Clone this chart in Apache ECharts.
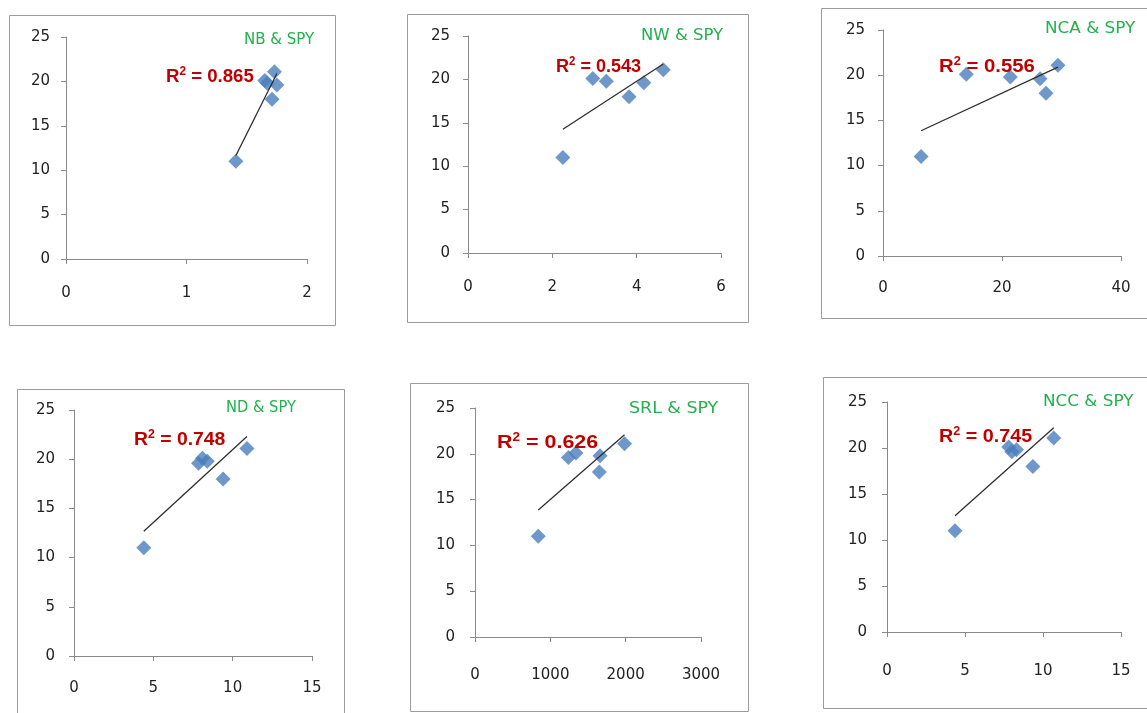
<!DOCTYPE html>
<html>
<head>
<meta charset="utf-8">
<title>Regressions vs SPY</title>
<script src="https://cdn.jsdelivr.net/npm/echarts@6/dist/echarts.min.js"></script>
<style>
  html, body { margin: 0; padding: 0; background: #ffffff; }
  #chart { width: 1147px; height: 713px; }
</style>
</head>
<body>
<div id="chart"></div>
<script>
// SPY values (y) shared by every panel, in the same observation order
const SPY = [11.0, 20.1, 19.8, 18.0, 19.6, 21.1];

// x values for each comparison series
const NB  = [1.41, 1.65, 1.67, 1.71, 1.75, 1.73];
const NW  = [2.25, 2.96, 3.28, 3.82, 4.17, 4.63];
const NCA = [6.4, 14.0, 21.4, 27.4, 26.4, 29.4];
const ND  = [4.4, 8.1, 8.4, 9.4, 7.85, 10.9];
const SRL = [840, 1340, 1660, 1650, 1240, 1985];
const NCC = [4.36, 7.8, 8.3, 9.35, 8.0, 10.69];

const PANEL_TITLES = ['NB & SPY', 'NW & SPY', 'NCA & SPY', 'ND & SPY', 'SRL & SPY', 'NCC & SPY'];
const R2_VALUES = ['0.865', '0.543', '0.556', '0.748', '0.626', '0.745'];

// axis ranges
const X_MAX  = [2, 6, 40, 15, 3000, 15];
const X_STEP = [1, 2, 20, 5, 1000, 5];
const Y_MAX = 25;
const Y_STEP = 5;

const X_SERIES = [NB, NW, NCA, ND, SRL, NCC];

// page layout of each panel: outer frame, plot area, label margins, text anchors
const LAYOUT = [
  { box: [9, 15, 326, 310],   grid: [66, 37, 241, 222],   xm: 27, ym: 16, title: [244, 40, 1.0],   r2: [166, 77, 0.98] },
  { box: [407, 14, 341, 308], grid: [468, 36, 253, 217],  xm: 27, ym: 18, title: [641, 36, 1.1],   r2: [556, 67, 0.95] },
  { box: [821, 8, 340, 310],  grid: [883, 30, 238, 226],  xm: 25, ym: 18, title: [1045, 29, 1.12], r2: [939, 67, 1.07] },
  { box: [17, 389, 327, 340], grid: [74, 410, 238, 246],  xm: 25, ym: 19, title: [226, 408, 0.98], r2: [134, 440, 1.02] },
  { box: [410, 383, 338, 328], grid: [475, 408, 226, 229], xm: 31, ym: 20, title: [629, 409, 1.16], r2: [497, 443, 1.13] },
  { box: [823, 377, 340, 331], grid: [887, 402, 234, 230], xm: 32, ym: 20, title: [1043, 402, 1.12], r2: [939, 437, 1.04] }
];

// least-squares fit, returned as the two end points of the fitted segment
function trendSegment(xs, ys) {
  const n = xs.length;
  let mx = 0, my = 0;
  for (let i = 0; i < n; i++) { mx += xs[i]; my += ys[i]; }
  mx /= n; my /= n;
  let sxy = 0, sxx = 0;
  for (let i = 0; i < n; i++) {
    sxy += (xs[i] - mx) * (ys[i] - my);
    sxx += (xs[i] - mx) * (xs[i] - mx);
  }
  const b = sxy / sxx;
  const a = my - b * mx;
  const lo = Math.min.apply(null, xs);
  const hi = Math.max.apply(null, xs);
  return [[lo, a + b * lo], [hi, a + b * hi]];
}

const AXIS_COLOR = '#8a8a8a';
const LABEL_STYLE = {
  color: '#222222', fontSize: 15, fontFamily: 'DejaVu Sans',
  formatter: function (v) { return String(v); }
};

const grids = [], xAxes = [], yAxes = [], series = [], graphics = [];

LAYOUT.forEach(function (L, i) {
  grids.push({ left: L.grid[0], top: L.grid[1], width: L.grid[2], height: L.grid[3] });

  xAxes.push({
    type: 'value', gridIndex: i, min: 0, max: X_MAX[i], interval: X_STEP[i],
    axisLine: { show: true, onZero: false, lineStyle: { color: AXIS_COLOR, width: 1 } },
    axisTick: { show: true, length: 5, lineStyle: { color: AXIS_COLOR } },
    splitLine: { show: false },
    axisLabel: Object.assign({ margin: L.xm }, LABEL_STYLE)
  });
  yAxes.push({
    type: 'value', gridIndex: i, min: 0, max: Y_MAX, interval: Y_STEP,
    axisLine: { show: true, onZero: false, lineStyle: { color: AXIS_COLOR, width: 1 } },
    axisTick: { show: true, length: 5, lineStyle: { color: AXIS_COLOR } },
    splitLine: { show: false },
    axisLabel: Object.assign({ margin: L.ym }, LABEL_STYLE)
  });

  const xs = X_SERIES[i];
  series.push({
    type: 'scatter', xAxisIndex: i, yAxisIndex: i,
    symbol: 'diamond', symbolSize: 15,
    itemStyle: { color: '#4a7ebb' },
    data: xs.map(function (x, k) { return [x, SPY[k]]; }),
    z: 2
  });
  series.push({
    type: 'line', xAxisIndex: i, yAxisIndex: i,
    showSymbol: false, symbol: 'none', silent: true,
    lineStyle: { color: '#2e2e2e', width: 1.3 },
    data: trendSegment(xs, SPY),
    z: 3
  });

  // frame around the panel
  graphics.push({
    type: 'rect', silent: true, z: 0,
    shape: { x: L.box[0] + 0.5, y: L.box[1] + 0.5, width: L.box[2], height: L.box[3] },
    style: { fill: 'none', stroke: '#9c9c9c', lineWidth: 1 }
  });

  // panel caption
  graphics.push({
    type: 'text', silent: true, z: 10,
    x: L.title[0], y: L.title[1], scaleX: L.title[2],
    style: {
      text: PANEL_TITLES[i], fill: '#22b14c',
      fontSize: 15, fontFamily: 'DejaVu Sans',
      align: 'left', verticalAlign: 'middle'
    }
  });

  // coefficient of determination
  graphics.push({
    type: 'text', silent: true, z: 10,
    x: L.r2[0], y: L.r2[1], scaleX: L.r2[2],
    style: {
      text: '{r|R}{s|2}{r| = ' + R2_VALUES[i] + '}',
      align: 'left', verticalAlign: 'middle',
      rich: {
        r: { fill: '#c00000', fontSize: 19, fontWeight: 'bold', fontFamily: 'Liberation Sans', lineHeight: 22 },
        s: { fill: '#c00000', fontSize: 12, fontWeight: 'bold', fontFamily: 'Liberation Sans', verticalAlign: 'top', lineHeight: 14 }
      }
    }
  });
});

const chart = echarts.init(document.getElementById('chart'), null, { renderer: 'canvas' });
chart.setOption({
  backgroundColor: '#ffffff',
  animation: false,
  grid: grids,
  xAxis: xAxes,
  yAxis: yAxes,
  series: series,
  graphic: graphics
});
</script>
</body>
</html>
